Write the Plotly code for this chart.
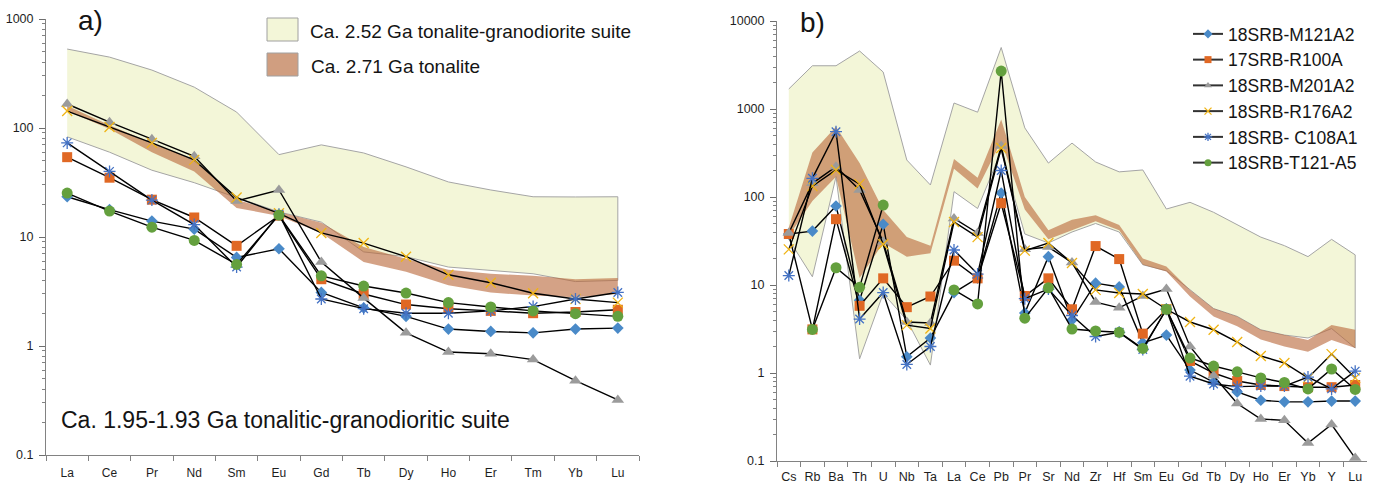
import plotly.graph_objects as go

# ---------------- categories ----------------
ree_cats = ["La", "Ce", "Pr", "Nd", "Sm", "Eu", "Gd", "Tb", "Dy", "Ho", "Er", "Tm", "Yb", "Lu"]
spider_cats = ["Cs", "Rb", "Ba", "Th", "U", "Nb", "Ta", "La", "Ce", "Pb", "Pr", "Sr", "Nd",
               "Zr", "Hf", "Sm", "Eu", "Gd", "Tb", "Dy", "Ho", "Er", "Yb", "Y", "Lu"]

series_names = ["18SRB-M121A2", "17SRB-R100A", "18SRB-M201A2", "18SRB-R176A2",
                "18SRB- C108A1", "18SRB-T121-A5"]

# ---------------- panel a: REE (chondrite normalised) ----------------
a_M121A2 = [23.4, 17.8, 14.0, 11.8, 6.5, 7.8, 3.1, 2.24, 1.87, 1.43, 1.36, 1.32, 1.43, 1.46]
a_R100A = [54, 35, 22, 15.1, 8.3, 15.7, 4.1, 3.0, 2.4, 2.2, 2.1, 2.0, 2.05, 2.15]
a_M201A2 = [166, 113, 79, 55, 21.4, 27, 5.9, 2.75, 1.32, 0.88, 0.85, 0.75, 0.48, 0.32]
a_R176A2 = [143, 102, 73, 51, 23, 16.5, 10.9, 8.8, 6.6, 4.5, 3.8, 3.05, 2.7, 2.5]
a_C108A1 = [73, 40, 21.8, 13, 5.3, 16.2, 2.7, 2.2, 2.0, 2.0, 2.1, 2.3, 2.7, 3.1]
a_T121A5 = [25.3, 17.3, 12.3, 9.3, 5.6, 15.9, 4.4, 3.55, 3.06, 2.5, 2.28, 2.1, 1.98, 1.87]

a_tg_hi = [530, 447, 340, 237, 140, 57, 70, 59, 44, 32, 27, 23.4, 23.3, 23.4]
a_tg_lo = [83, 60, 41, 31.5, 23, 17, 13.7, 7.3, 6.6, 5.3, 4.9, 4.6, 3.9, 4.0]
a_ton_hi = [160, 106, 73, 51, 22, 17, 13.5, 8.1, 6.3, 5.0, 4.6, 4.4, 4.1, 4.2]
a_ton_lo = [143, 98, 60, 40, 18.5, 15.6, 10.9, 5.9, 4.8, 3.6, 3.1, 2.9, 2.8, 3.0]

# ---------------- panel b: multi-element (primitive mantle normalised) ----------------
b_M121A2 = [38, 41, 79, 6.7, 49, 1.53, 2.5, 8.2, 12, 111, 4.8, 21, 4.0, 10.5, 9.5, 2.2, 2.7,
            1.08, 0.79, 0.61, 0.49, 0.47, 0.47, 0.48, 0.48]
b_R100A = [38, 3.13, 56, 5.8, 11.9, 5.6, 7.4, 18.9, 11.9, 85, 7.5, 11.9, 5.3, 27.7, 19.7, 2.8,
           5.3, 1.37, 1.0, 0.81, 0.73, 0.71, 0.69, 0.69, 0.73]
b_M201A2 = [39, 143, 221, 120, 31, 3.8, 3.7, 57, 39, 380, 25.4, 27, 18, 6.4, 5.5, 7.5, 9.0,
            2.0, 0.93, 0.45, 0.30, 0.29, 0.16, 0.26, 0.108]
b_R176A2 = [25.4, 133, 203, 140, 29, 3.5, 3.2, 52, 35, 360, 24.6, 30, 17.8, 8.8, 8.1, 7.9, 5.3,
            3.8, 3.1, 2.25, 1.56, 1.3, 0.88, 1.64, 0.88]
b_C108A1 = [12.8, 163, 552, 4.1, 8.2, 1.25, 2.0, 25, 13.3, 200, 7.0, 9.0, 4.5, 2.6, 2.9, 1.85,
            5.3, 0.92, 0.75, 0.70, 0.71, 0.71, 0.90, 0.66, 1.05]
b_T121A5 = [None, 3.13, 15.7, 9.4, 81, None, None, 8.8, 6.1, 2700, 4.2, 9.3, 3.16, 3.0, 2.9,
            1.9, 5.3, 1.48, 1.2, 1.03, 0.88, 0.78, 0.66, 1.11, 0.65]

b_tg_hi = [1690, 3100, 3100, 4560, 2630, 263, 137, 1170, 920, 5000, 610, 243, 410, 250, 193,
           203, 73, 87, 67, 48, 35, 28, 21, 33, 22]
b_tg_lo = [33, 12.4, 170, 1.45, 8, 4.0, 1.23, 115, 74, 330, 38, 30, 40, 50, 40, 17, 14.5,
           8.8, 5.4, 4.4, 3.1, 2.7, 2.5, 3.2, 1.92]
b_ton_hi = [45, 320, 630, 243, 71, 35, 28, 270, 165, 760, 100, 42, 55, 62, 48, 20, 16.2,
            8.8, 5.4, 4.4, 3.1, 2.7, 2.37, 3.5, 3.1]
b_ton_lo = [36, 90, 170, 12, 30, 21, 23, 210, 125, 430, 72, 33, 42, 53, 42, 17, 14.2,
            7.4, 4.4, 3.4, 2.4, 2.0, 1.74, 2.37, 1.92]

a_series = [a_M121A2, a_R100A, a_M201A2, a_R176A2, a_C108A1, a_T121A5]
b_series = [b_M121A2, b_R100A, b_M201A2, b_R176A2, b_C108A1, b_T121A5]

# ---------------- styles ----------------
FONT = "Liberation Sans, Arial, sans-serif"
TG_FILL = "rgb(243,246,216)"
TG_LINE = "rgb(165,165,165)"
TON_FILL = "rgba(185,105,60,0.62)"
SWATCH_TON = "rgb(208,158,128)"

styles = [
    dict(symbol="diamond", color="rgb(74,138,200)", size=9, lw=0),
    dict(symbol="square", color="rgb(224,104,36)", size=10, lw=0),
    dict(symbol="triangle-up", color="rgb(155,155,155)", size=11, lw=0),
    dict(symbol="x-thin-open", color="rgb(240,180,20)", size=10, lw=1.3),
    dict(symbol="asterisk-open", color="rgb(68,114,196)", size=10, lw=1.3),
    dict(symbol="circle", color="rgb(100,160,62)", size=11, lw=0),
]

fig = go.Figure()


def add_band(cats, hi, lo, xa, ya, fill, line_color, line_width):
    fig.add_trace(go.Scatter(
        x=list(cats) + list(cats[::-1]),
        y=list(hi) + list(lo[::-1]),
        fill="toself", fillcolor=fill, mode="lines",
        line=dict(color=line_color, width=line_width),
        xaxis=xa, yaxis=ya, showlegend=False, hoverinfo="skip"))


# bands
add_band(ree_cats, a_tg_hi, a_tg_lo, "x", "y", TG_FILL, TG_LINE, 1)
add_band(ree_cats, a_ton_hi, a_ton_lo, "x", "y", TON_FILL, "rgba(0,0,0,0)", 0)
add_band(spider_cats, b_tg_hi, b_tg_lo, "x2", "y2", TG_FILL, TG_LINE, 1)
add_band(spider_cats, b_ton_hi, b_ton_lo, "x2", "y2", TON_FILL, "rgba(0,0,0,0)", 0)

# sample lines
for vals, st, name in zip(a_series, styles, series_names):
    fig.add_trace(go.Scatter(
        x=ree_cats, y=vals, mode="lines+markers", name=name,
        line=dict(color="black", width=1.4),
        marker=dict(symbol=st["symbol"], color=st["color"], size=st["size"],
                    line=dict(color=st["color"], width=st["lw"])),
        xaxis="x", yaxis="y", showlegend=False))

for vals, st, name in zip(b_series, styles, series_names):
    fig.add_trace(go.Scatter(
        x=spider_cats, y=vals, mode="lines+markers", name=name,
        line=dict(color="black", width=1.4),
        marker=dict(symbol=st["symbol"], color=st["color"], size=st["size"],
                    line=dict(color=st["color"], width=st["lw"])),
        xaxis="x2", yaxis="y2", showlegend=False, connectgaps=False))

# legend proxies (panel b legend)
for st, name in zip(styles, series_names):
    fig.add_trace(go.Scatter(
        x=[None], y=[None], mode="lines+markers", name=name,
        line=dict(color="rgb(50,50,50)", width=2),
        marker=dict(symbol=st["symbol"], color=st["color"], size=7,
                    line=dict(color=st["color"], width=st["lw"])),
        xaxis="x2", yaxis="y2", showlegend=True))

W, H = 1374, 483


def px_x(p):
    return p / W


def px_y(p):
    return 1 - p / H


axis_common = dict(showgrid=False, zeroline=False, showline=True, linecolor="rgb(130,130,130)",
                   linewidth=1, automargin=False)

xa_common = dict(axis_common, type="category", tickson="boundaries", ticks="outside",
                 ticklen=5, tickcolor="rgb(130,130,130)", fixedrange=True, tickangle=0)

ya_common = dict(axis_common, type="log", ticks="outside", ticklen=6,
                 tickcolor="rgb(110,110,110)", fixedrange=True, ticklabelstandoff=3,
                 tickfont=dict(family=FONT, size=12.5, color="rgb(30,30,30)"),
                 minor=dict(ticks="outside", ticklen=3, tickcolor="rgb(130,130,130)",
                            dtick="D1", showgrid=False))

fig.update_layout(
    width=W, height=H,
    margin=dict(l=0, r=0, t=0, b=0, autoexpand=False),
    paper_bgcolor="white", plot_bgcolor="white",
    font=dict(family=FONT, color="rgb(30,30,30)"),
    xaxis=dict(xa_common, domain=[px_x(46), px_x(639)], anchor="y",
               categoryorder="array", categoryarray=ree_cats,
               range=[-0.5, len(ree_cats) - 0.5], ticklabelstandoff=7,
               tickfont=dict(family=FONT, size=12, color="rgb(30,30,30)")),
    yaxis=dict(ya_common, domain=[px_y(455), px_y(19)], anchor="x",
               range=[-1, 3], tickvals=[0.1, 1, 10, 100, 1000],
               ticktext=["0.1", "1", "10", "100", "1000"]),
    xaxis2=dict(xa_common, domain=[px_x(777), px_x(1367)], anchor="y2",
                categoryorder="array", categoryarray=spider_cats,
                range=[-0.5, len(spider_cats) - 0.5], ticklabelstandoff=4,
                tickfont=dict(family=FONT, size=12.5, color="rgb(30,30,30)")),
    yaxis2=dict(ya_common, domain=[px_y(461), px_y(21)], anchor="x2",
                range=[-1, 4], tickvals=[0.1, 1, 10, 100, 1000, 10000],
                ticktext=["0.1", "1", "10", "100", "1000", "10000"]),
    legend=dict(x=px_x(1188), y=px_y(16), xanchor="left", yanchor="top",
                font=dict(family=FONT, size=17.5, color="rgb(20,20,20)"),
                bgcolor="rgba(0,0,0,0)", itemwidth=30, tracegroupgap=0),
    showlegend=True,
)

# panel a legend swatches (paper coordinates)
fig.add_shape(type="rect", xref="paper", yref="paper",
              x0=px_x(267), x1=px_x(298), y0=px_y(41), y1=px_y(18),
              fillcolor=TG_FILL, line=dict(color="rgb(160,160,160)", width=1))
fig.add_shape(type="rect", xref="paper", yref="paper",
              x0=px_x(267), x1=px_x(298), y0=px_y(76), y1=px_y(53),
              fillcolor=SWATCH_TON, line=dict(color="rgb(160,160,160)", width=1))

annotations = [
    dict(text="Ca. 2.52 Ga tonalite-granodiorite suite", x=px_x(308), y=px_y(31),
         xanchor="left", yanchor="middle", font=dict(size=19)),
    dict(text="Ca. 2.71 Ga tonalite", x=px_x(309), y=px_y(67),
         xanchor="left", yanchor="middle", font=dict(size=19)),
    dict(text="Ca. 1.95-1.93 Ga tonalitic-granodioritic suite", x=px_x(59), y=px_y(420),
         xanchor="left", yanchor="middle", font=dict(size=23)),
    dict(text="a)", x=px_x(76), y=px_y(20), xanchor="left", yanchor="middle",
         font=dict(size=28)),
    dict(text="b)", x=px_x(798), y=px_y(22), xanchor="left", yanchor="middle",
         font=dict(size=28)),
]
for a in annotations:
    a["font"].update(family=FONT, color="rgb(20,20,20)")
    fig.add_annotation(xref="paper", yref="paper", showarrow=False, **a)

fig.write_html("out.html")
